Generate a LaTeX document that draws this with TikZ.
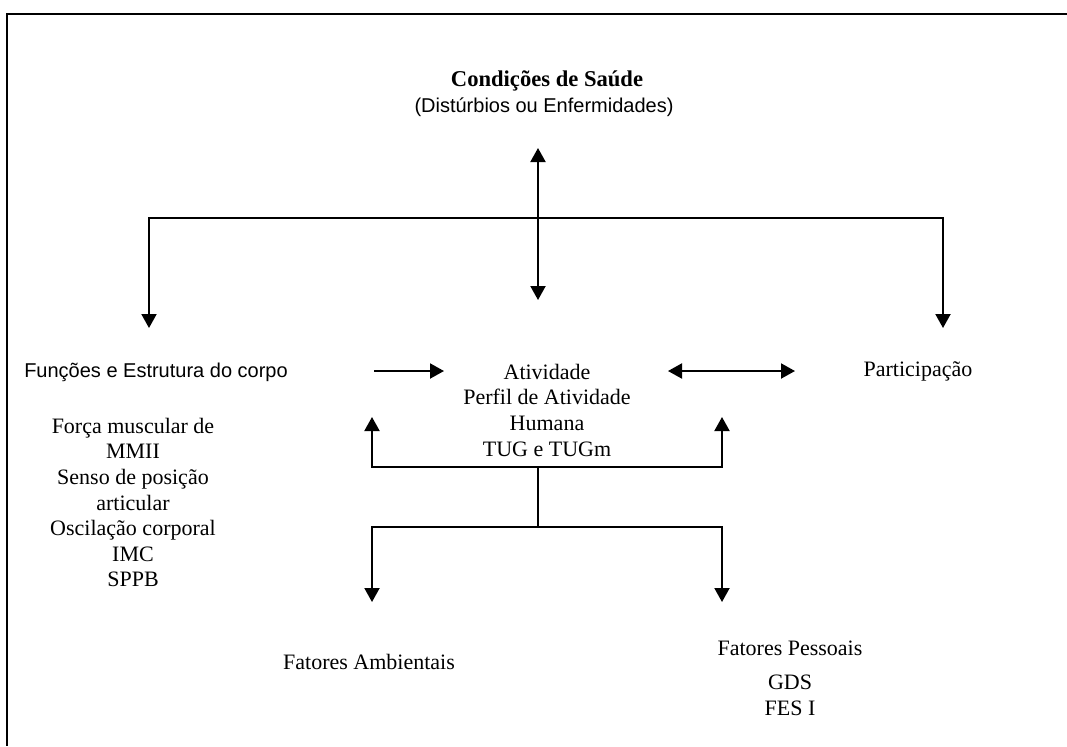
\documentclass[tikz,border=0pt]{standalone}
\usepackage{fontspec}
\setmainfont{Liberation Serif}
\setsansfont{Liberation Sans}
\usetikzlibrary{arrows.meta}

\begin{document}
\begin{tikzpicture}[x=0.5pt,y=-0.5pt,line width=1pt,
    >={Triangle[length=7pt,width=7.5pt]},
    font=\fontsize{11}{12.8}\selectfont,
    txt/.style={inner sep=0pt,align=center},
    sans/.style={txt,font=\sffamily\fontsize{10}{12}\selectfont}]
  \useasboundingbox (0,0) rectangle (1067,746);
  % open frame: top and left edges only
  \draw (1067,14) -- (7,14) -- (7,746);
  % texts
  \node[txt,font=\bfseries\fontsize{11.3}{13}\selectfont] (cond) at (547,81) {Condições de Saúde};
  \node[sans] (dist) at (544,107) {(Distúrbios ou Enfermidades)};
  \node[sans] (func) at (156,372) {Funções e Estrutura do corpo};
  \node[txt,anchor=north] (ativ) at (547,363) {Atividade\\Perfil de Atividade\\Humana\\TUG e TUGm};
  \node[txt] (part) at (918,371) {Participação};
  \node[txt,anchor=north] (corpo) at (133,417) {Força muscular de\\MMII\\Senso de posição\\articular\\Oscilação corporal\\IMC\\SPPB};
  \node[txt] (amb) at (369,662) {Fatores Ambientais};
  \node[txt] (pess) at (790,648) {Fatores Pessoais};
  \node[txt,anchor=north] (quest) at (790,674) {GDS\\FES I};
  % connector ends
  \coordinate (cup) at (538,148);
  \coordinate (cdn) at (538,300);
  \coordinate (bl)  at (149,328);
  \coordinate (br)  at (943,328);
  \coordinate (fa)  at (374,371);
  \coordinate (fb)  at (444,371);
  \coordinate (pa)  at (668,371);
  \coordinate (pb)  at (795,371);
  \coordinate (ul)  at (372,417);
  \coordinate (ur)  at (722,417);
  \coordinate (s1)  at (538,467);
  \coordinate (s2)  at (538,527);
  \coordinate (dl)  at (372,602);
  \coordinate (dr)  at (722,602);
  % health condition to the three components
  \draw[<->] (cup) -- (cdn);
  \draw[<->] (bl) -- ++(0,-110) -| (br);
  % middle row
  \draw[->] (fa) -- (fb);
  \draw[<->] (pa) -- (pb);
  % contextual factors
  \draw[<->] (ul) -- (ul |- s1) -| (ur);
  \draw (s1) -- (s2);
  \draw[<->] (dl) -- (dl |- s2) -| (dr);
\end{tikzpicture}
\end{document}
